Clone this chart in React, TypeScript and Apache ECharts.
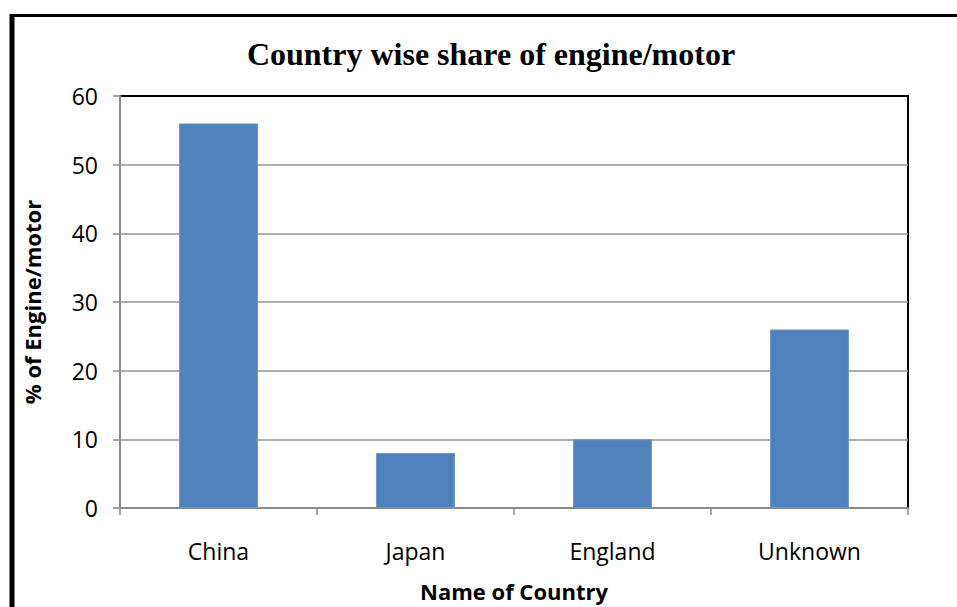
import React, { useEffect, useRef } from "react";
import * as echarts from "echarts";

const titleText = "Country wise share of engine/motor";
const categories = ["China", "Japan", "England", "Unknown"];
const shares = [56, 8, 10, 26];
const xAxisName = "Name of Country";
const yAxisName = "% of Engine/motor";
const yMin = 0;
const yMax = 60;
const yStep = 10;

export default function App() {
  const ref = useRef<HTMLDivElement>(null);
  useEffect(() => {
    if (!ref.current) return;
    const chart = echarts.init(ref.current, null, { renderer: "svg" });
    const gray = "#8a8a8a";
    const labelFont = "'Open Sans', sans-serif";
    chart.setOption({
      animation: false,
      backgroundColor: "#ffffff",
      title: {
        text: titleText,
        left: 486,
        top: 33,
        textAlign: "center",
        textStyle: {
          fontFamily: "'Liberation Serif', 'Times New Roman', serif",
          fontWeight: "bold",
          fontSize: 32,
          color: "#000",
        },
      },
      grid: {
        left: 120,
        right: 49,
        top: 96,
        bottom: 98,
        show: true,
        borderColor: "#000",
        borderWidth: 2,
        backgroundColor: "transparent",
      },
      xAxis: {
        type: "category",
        data: categories,
        name: xAxisName,
        nameLocation: "middle",
        nameGap: 72,
        nameTextStyle: {
          fontFamily: labelFont,
          fontWeight: "bold",
          fontSize: 22,
          color: "#000",
        },
        axisLine: { show: true, lineStyle: { color: gray, width: 2 } },
        axisTick: { show: true, length: 7, lineStyle: { color: gray, width: 1.5 } },
        axisLabel: {
          fontFamily: labelFont,
          fontSize: 23,
          color: "#000",
          margin: 31,
        },
        splitLine: { show: false },
      },
      yAxis: {
        type: "value",
        min: yMin,
        max: yMax,
        interval: yStep,
        name: yAxisName,
        nameLocation: "middle",
        nameRotate: 90,
        nameGap: 77,
        nameTextStyle: {
          fontFamily: labelFont,
          fontWeight: "bold",
          fontSize: 22,
          color: "#000",
        },
        axisLine: { show: true, lineStyle: { color: gray, width: 2 } },
        axisTick: { show: true, length: 7, lineStyle: { color: gray, width: 1.5 } },
        axisLabel: {
          fontFamily: labelFont,
          fontSize: 23,
          color: "#000",
          margin: 22,
        },
        splitLine: {
          show: true,
          showMaxLine: false,
          lineStyle: { color: "#959595", width: 1.5 },
        },
      },
      series: [
        {
          type: "bar",
          data: shares,
          barWidth: "40%",
          itemStyle: { color: "#4F81BD", borderColor: "#6a95c9", borderWidth: 1 },
        },
      ],
      graphic: [
        {
          type: "rect",
          shape: { x: 10, y: 14, width: 947, height: 3 },
          style: { fill: "#000" },
          silent: true,
        },
        {
          type: "rect",
          shape: { x: 9.5, y: 14, width: 5, height: 593 },
          style: { fill: "#000" },
          silent: true,
        },
      ],
    });
    return () => chart.dispose();
  }, []);
  return (
    <div
      ref={ref}
      style={{ position: "absolute", left: 0, top: 0, width: 957, height: 607 }}
    />
  );
}
